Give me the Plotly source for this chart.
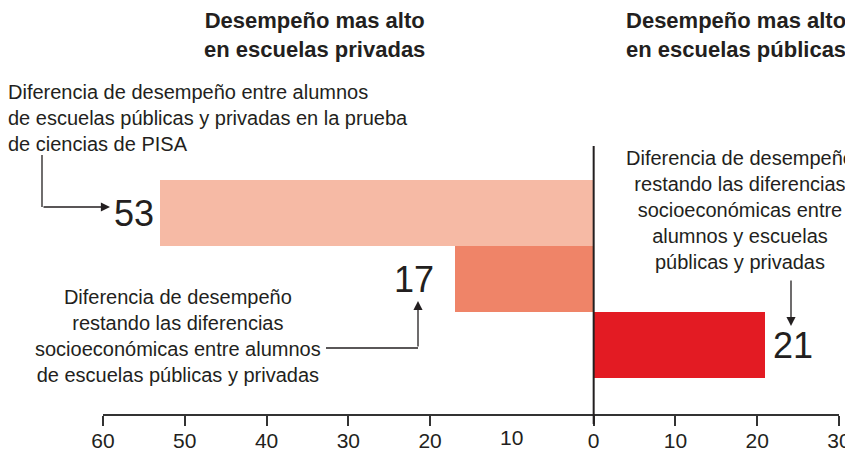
import plotly.graph_objects as go

# ---- data ----
categories = ["Diferencia total", "Diferencia ajustada (privadas)", "Diferencia ajustada (públicas)"]
values = [-53, -17, 21]          # negative = mejor desempeño en privadas
bar_colors = ["#f6baa5", "#ef8468", "#e31b23"]
tick_values = [-60, -50, -40, -30, -20, -10, 0, 10, 20, 30]
tick_labels = ["60", "50", "40", "30", "20", "10", "0", "10", "20", "30"]
untick_value = -10   # in the original this tick has no tick mark (label only)

# the page adds an 8px body margin, so the figure is 8px smaller than the window
W, H = 845, 444
L, R, T, B = 95, 14, 172, 38
PW, PH = W - L - R, H - T - B
INK = "#231f20"
FONT = "Liberation Sans, Arial, sans-serif"


def px(x):
    # reference window pixel -> paper coordinate
    return (x - 8 - L) / PW


def py(y):
    return (H - B - (y - 8)) / PH


fig = go.Figure()
fig.add_trace(go.Bar(
    x=values, y=categories, orientation="h",
    marker=dict(color=bar_colors, line=dict(width=0)),
    width=1.0, hoverinfo="skip", showlegend=False,
))

annotations = []
# value labels next to bars
shifts = [-4, -19, 6]
for v, c, s in zip(values, categories, shifts):
    annotations.append(dict(
        x=v, y=c, xref="x", yref="y", text=str(abs(v)), showarrow=False,
        xanchor="right" if v < 0 else "left", yanchor="middle", xshift=s,
        font=dict(family=FONT, size=36, color=INK),
    ))

# titles
for xc, txt in [(314, "<b>Desempeño mas alto<br>en escuelas privadas</b>"),
                (736, "<b>Desempeño mas alto<br>en escuelas públicas</b>")]:
    annotations.append(dict(
        x=px(xc), y=py(35), xref="paper", yref="paper", showarrow=False,
        text=txt, align="center", xanchor="center", yanchor="middle",
        font=dict(family=FONT, size=22, color=INK),
    ))

# descriptive texts
annotations.append(dict(
    x=px(6), y=py(118), xref="paper", yref="paper", showarrow=False,
    text="Diferencia de desempeño entre alumnos<br>de escuelas públicas y privadas en la prueba<br>de ciencias de PISA",
    align="left", xanchor="left", yanchor="middle",
    font=dict(family=FONT, size=20, color=INK),
))
annotations.append(dict(
    x=px(178), y=py(336), xref="paper", yref="paper", showarrow=False,
    text="Diferencia de desempeño<br>restando las diferencias<br>socioeconómicas entre alumnos<br>de escuelas públicas y privadas",
    align="center", xanchor="center", yanchor="middle",
    font=dict(family=FONT, size=20, color=INK),
))
annotations.append(dict(
    x=px(740), y=py(210), xref="paper", yref="paper", showarrow=False,
    text="Diferencia de desempeño<br>restando las diferencias<br>socioeconómicas entre<br>alumnos y escuelas<br>públicas y privadas",
    align="center", xanchor="center", yanchor="middle",
    font=dict(family=FONT, size=20, color=INK),
))

# label of the tick without a tick mark
annotations.append(dict(
    x=untick_value, y=py(437), xref="x", yref="paper", showarrow=False,
    text=tick_labels[tick_values.index(untick_value)],
    xanchor="center", yanchor="middle",
    font=dict(family=FONT, size=21, color=INK),
))

# arrow heads
annotations.append(dict(
    x=px(110), y=py(207), xref="paper", yref="paper", text="", showarrow=True,
    ax=-68, ay=0, arrowhead=2, arrowsize=1.4, arrowwidth=1.3, arrowcolor=INK,
))
annotations.append(dict(
    x=px(418), y=py(301), xref="paper", yref="paper", text="", showarrow=True,
    ax=0, ay=47, arrowhead=2, arrowsize=1.4, arrowwidth=1.3, arrowcolor=INK,
))
annotations.append(dict(
    x=px(791), y=py(326), xref="paper", yref="paper", text="", showarrow=True,
    ax=0, ay=-47, arrowhead=2, arrowsize=1.4, arrowwidth=1.3, arrowcolor=INK,
))

shapes = [
    # zero line
    dict(type="line", xref="x", yref="paper", x0=0, x1=0, y0=py(424), y1=py(146),
         line=dict(color=INK, width=2)),
    # arrow legs
    dict(type="line", xref="paper", yref="paper", x0=px(42), x1=px(42), y0=py(155), y1=py(207),
         line=dict(color=INK, width=1.3)),
    dict(type="line", xref="paper", yref="paper", x0=px(326), x1=px(418), y0=py(348), y1=py(348),
         line=dict(color=INK, width=1.3)),
]

shown_ticks = [t for t in tick_values if t != untick_value]
shown_labels = [lab for t, lab in zip(tick_values, tick_labels) if t != untick_value]

fig.update_layout(
    width=W, height=H,
    margin=dict(l=L, r=R, t=T, b=B, autoexpand=False),
    paper_bgcolor="white", plot_bgcolor="white",
    bargap=0,
    annotations=annotations, shapes=shapes,
    xaxis=dict(
        range=[-60, 30], tickvals=shown_ticks, ticktext=shown_labels,
        showline=True, linecolor="#333333", linewidth=2,
        ticks="outside", ticklen=10, tickwidth=2, tickcolor="#333333",
        ticklabelstandoff=-3,
        tickfont=dict(family=FONT, size=21, color=INK),
        showgrid=False, zeroline=False, fixedrange=True,
    ),
    yaxis=dict(
        categoryorder="array", categoryarray=categories,
        range=[3.045, -0.5],
        visible=False, showgrid=False, zeroline=False, fixedrange=True,
    ),
)

fig.write_html("out.html")
